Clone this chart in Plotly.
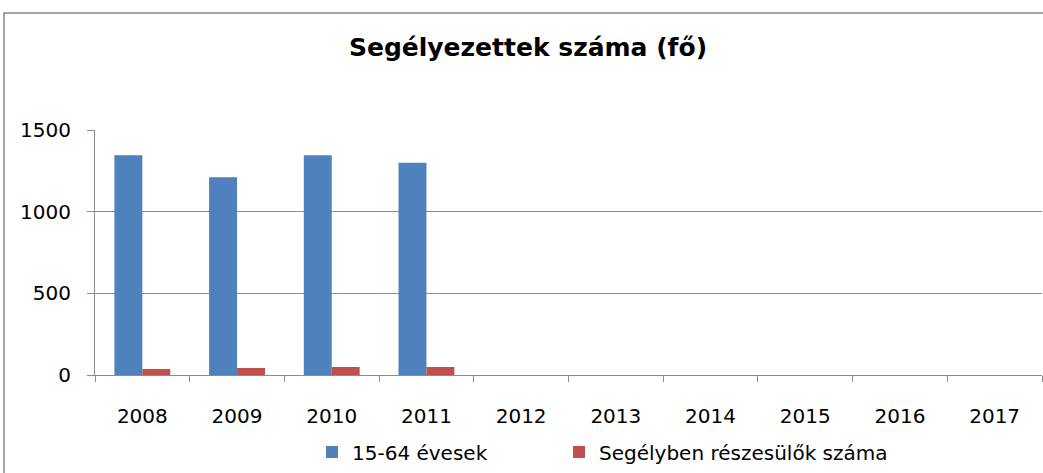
import plotly.graph_objects as go

years = ["2008", "2009", "2010", "2011", "2012", "2013", "2014", "2015", "2016", "2017"]
s1_name = "15-64 évesek"
s1_values = [1345, 1210, 1345, 1300, None, None, None, None, None, None]
s2_name = "Segélyben részesülők száma"
s2_values = [37, 43, 49, 49, None, None, None, None, None, None]
title_text = "Segélyezettek száma (fő)"

FONT = "DejaVu Sans"
GRID = "#8c8c8c"
W, H = 1043, 473
L, R, T, B = 95, 1, 130, 98
plot_w = W - L - R
plot_h = H - T - B

fig = go.Figure()
fig.add_trace(go.Bar(x=years, y=s1_values, name=s1_name, legend="legend",
                     marker=dict(color="#4f81bd", line=dict(width=0))))
fig.add_trace(go.Bar(x=years, y=s2_values, name=s2_name, legend="legend2",
                     marker=dict(color="#c0504d", line=dict(width=0))))

leg_common = dict(orientation="h", xanchor="left", y=-0.314, yanchor="middle",
                  font=dict(family=FONT, size=20, color="black"), itemwidth=30,
                  bgcolor="rgba(0,0,0,0)")

fig.update_layout(
    width=W, height=H,
    margin=dict(l=L, r=R, t=T, b=B),
    paper_bgcolor="white", plot_bgcolor="white",
    barmode="group", bargap=0.41, bargroupgap=0,
    font=dict(family=FONT, size=20, color="black"),
    title=dict(text="<b>" + title_text + "</b>", xref="container", x=528 / W, xanchor="center",
               yref="container", y=1 - 47 / H, yanchor="middle",
               font=dict(family=FONT, size=25, color="black")),
    legend=dict(x=(312 - L) / plot_w, **leg_common),
    legend2=dict(x=(559 - L) / plot_w, **leg_common),
    showlegend=True,
)
fig.update_xaxes(type="category", showline=True, linecolor=GRID, linewidth=1,
                 ticks="outside", tickson="boundaries", ticklen=6, tickcolor=GRID,
                 showgrid=False, tickfont=dict(size=20), ticklabelstandoff=23, automargin=False)
fig.update_yaxes(range=[0, 1500], tickvals=[0, 500, 1000, 1500], showline=True, linecolor=GRID, linewidth=1,
                 ticks="outside", ticklen=7, tickcolor=GRID, showgrid=True, gridcolor=GRID, gridwidth=1,
                 zeroline=False, tickfont=dict(size=20), ticklabelstandoff=12, automargin=False)

# chart frame
fig.add_shape(type="rect", xref="paper", yref="paper",
              x0=(4 - L) / plot_w, x1=1.05, y0=-0.6, y1=(H - B - 13) / plot_h,
              line=dict(color="#888888", width=1.5), fillcolor="rgba(0,0,0,0)", layer="below")

fig.write_html("out.html", config={"displayModeBar": False},
               post_script="document.body.style.margin='0';document.body.style.overflow='hidden';")
